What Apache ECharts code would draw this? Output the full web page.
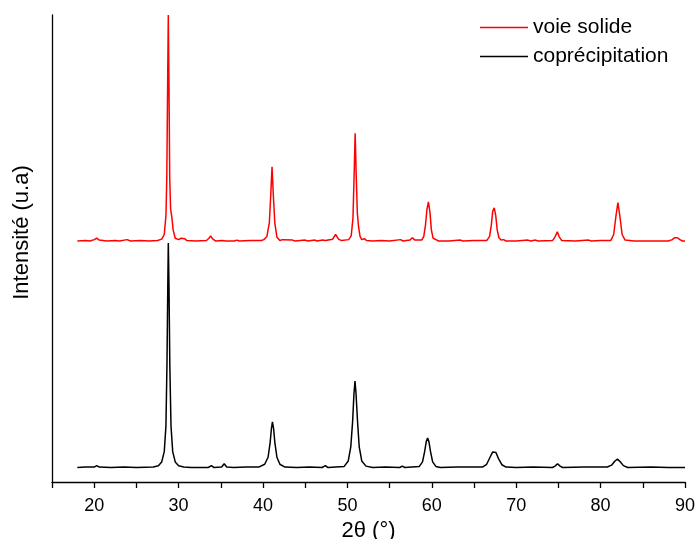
<!DOCTYPE html>
<html>
<head>
<meta charset="utf-8">
<script src="https://cdn.jsdelivr.net/npm/echarts@6/dist/echarts.min.js"></script>
<style>
html,body{margin:0;padding:0;background:#fff;}
#chart{width:696px;height:539px;}
</style>
</head>
<body>
<div id="chart"></div>
<script>
// 2θ (°) tick labels
var xTicks = [20, 30, 40, 50, 60, 70, 80, 90];

// "voie solide" pattern: [2θ, intensity (u.a, offset)]
var voieSolide = [
[18.0,51.6],[19.0,51.7],[19.5,51.6],[20.0,51.9],[20.3,52.2],[20.6,51.8],[21.5,51.6],[22.5,51.7],[23.0,51.6],[23.9,51.9],[24.3,51.6],
[25.5,51.7],[26.5,51.6],[27.5,51.7],[28.0,52.0],[28.3,53.0],[28.5,57.0],[28.6,65.0],[28.7,85.0],[28.78,100],[28.86,85.0],[28.95,65.0],
[29.05,58.5],[29.2,56.7],[29.35,54.0],[29.6,52.2],[30.0,51.9],[30.3,52.2],[30.5,52.6],[30.7,52.1],[31.0,51.7],[32.0,51.6],[33.3,51.7],
[33.6,52.2],[33.8,52.7],[34.0,52.1],[34.4,51.6],[35.2,51.7],[35.4,51.9],[35.6,51.6],[36.6,51.6],[36.9,51.8],[37.2,51.6],[38.5,51.7],
[39.8,51.7],[40.1,51.9],[40.45,52.5],[40.75,55.5],[40.92,61.5],[41.07,67.5],[41.22,61.5],[41.4,55.5],[41.65,52.4],[42.0,51.7],[42.3,51.9],
[42.5,51.6],[43.5,51.8],[43.8,51.6],[45.0,51.8],[45.3,51.6],[46.15,51.8],[46.4,51.6],[47.07,51.8],[47.4,51.7],[48.25,52.0],[48.6,53.0],
[48.95,52.0],[49.3,51.7],[50.15,51.9],[50.45,52.7],[50.66,56.5],[50.8,66.0],[50.92,74.7],[51.04,66.0],[51.18,57.5],[51.33,54.5],[51.5,52.6],
[51.7,51.9],[52.0,52.1],[52.3,51.7],[53.0,51.6],[54.0,51.7],[55.0,51.6],[56.3,51.9],[56.6,51.6],[57.4,51.8],[57.7,52.3],[58.0,51.8],
[58.8,51.8],[59.05,52.6],[59.25,55.0],[59.42,58.3],[59.6,60.0],[59.78,57.8],[59.95,54.0],[60.15,52.2],[60.5,51.9],[60.8,51.6],[62.0,51.6],
[63.4,51.8],[63.7,51.6],[65.0,51.7],[66.5,51.7],[66.85,52.6],[67.05,55.0],[67.22,58.0],[67.4,58.7],[67.58,57.0],[67.75,54.0],[67.95,52.3],
[68.2,51.8],[68.5,51.9],[68.8,51.6],[70.0,51.6],[71.4,51.8],[71.7,51.6],[72.3,51.8],[72.6,51.6],[74.3,51.7],[74.6,52.5],[74.87,53.6],
[75.1,52.5],[75.4,51.7],[77.0,51.6],[78.6,51.8],[78.9,51.6],[80.0,51.7],[81.2,51.7],[81.55,53.0],[81.82,57.0],[82.05,59.8],[82.28,57.0],
[82.55,53.0],[82.9,51.8],[84.0,51.6],[86.0,51.6],[88.0,51.6],[88.5,51.9],[88.75,52.3],[88.9,52.2],[89.1,52.3],[89.4,51.9],[89.7,51.6],[90.0,51.6]
];

// "coprécipitation" pattern: [2θ, intensity (u.a)]
var coprecipitation = [
[18.0,3.1],[19.0,3.2],[20.0,3.2],[20.3,3.5],[20.6,3.2],[22.0,3.1],[23.5,3.2],[25.0,3.1],[27.0,3.2],[27.6,3.5],[28.0,4.3],[28.3,6.5],
[28.5,12.0],[28.62,25.0],[28.72,42.0],[28.78,51.2],[28.86,42.0],[28.96,25.0],[29.1,12.0],[29.3,6.5],[29.6,4.3],[30.0,3.5],[30.6,3.2],
[31.5,3.1],[33.5,3.1],[33.9,3.5],[34.2,3.1],[35.1,3.2],[35.4,3.9],[35.7,3.2],[36.5,3.1],[38.0,3.2],[39.5,3.2],[40.2,3.8],[40.6,5.3],
[40.85,8.5],[41.0,11.5],[41.12,12.9],[41.25,11.5],[41.4,8.5],[41.65,5.3],[42.0,3.8],[42.6,3.2],[44.0,3.1],[45.5,3.2],[47.0,3.1],[47.4,3.5],
[47.7,3.1],[49.6,3.3],[50.1,4.5],[50.4,7.5],[50.62,13.0],[50.78,19.0],[50.9,21.6],[51.02,19.0],[51.2,13.0],[51.4,7.5],[51.7,4.5],
[52.2,3.4],[53.0,3.1],[54.5,3.2],[56.2,3.1],[56.5,3.4],[56.8,3.1],[58.5,3.3],[58.9,4.3],[59.15,6.5],[59.35,8.7],[59.5,9.4],[59.65,8.7],
[59.85,6.5],[60.1,4.3],[60.5,3.3],[61.0,3.1],[63.0,3.2],[66.0,3.2],[66.5,3.8],[66.9,5.3],[67.2,6.4],[67.4,6.6],[67.6,6.3],[67.9,5.0],
[68.3,3.7],[68.8,3.2],[70.0,3.1],[72.0,3.2],[74.3,3.1],[74.6,3.4],[74.9,3.9],[75.2,3.4],[75.5,3.1],[78.0,3.2],[80.8,3.2],[81.3,3.6],
[81.7,4.5],[82.0,4.9],[82.3,4.4],[82.7,3.5],[83.2,3.1],[86.0,3.2],[88.0,3.1],[90.0,3.1]
];

var seriesNames = ['voie solide', 'coprécipitation'];

var FONT = '"Liberation Sans", Arial, sans-serif';
var chart = echarts.init(document.getElementById('chart'), null, {renderer: 'canvas'});
chart.setOption({
  animation: false,
  backgroundColor: '#ffffff',
  grid: {left: 52, right: 11, top: 15, bottom: 57, containLabel: false, outerBoundsMode: 'none'},
  legend: {
    orient: 'vertical',
    left: 475,
    top: 12,
    itemWidth: 48,
    itemHeight: 1.5,
    itemGap: 8,
    icon: 'rect',
    data: seriesNames,
    textStyle: {fontFamily: FONT, fontSize: 21, color: '#000'}
  },
  xAxis: {
    type: 'value',
    min: 15,
    max: 90,
    interval: 5,
    name: '2θ (°)',
    nameLocation: 'middle',
    nameGap: 35,
    nameTextStyle: {fontFamily: FONT, fontSize: 22, color: '#000'},
    axisLine: {show: true, onZero: false, lineStyle: {color: '#000', width: 1.3}},
    axisTick: {show: true, inside: false, length: 6, lineStyle: {color: '#000', width: 1.3}},
    axisLabel: {
      fontFamily: FONT, fontSize: 18, color: '#000', margin: 15,
      formatter: function (v) { return xTicks.indexOf(v) >= 0 ? String(v) : ''; }
    },
    splitLine: {show: false}
  },
  yAxis: {
    type: 'value',
    min: 0,
    max: 100,
    name: 'Intensité (u.a)',
    nameLocation: 'middle',
    nameGap: 19,
    nameTextStyle: {fontFamily: FONT, fontSize: 22, color: '#000', padding: [0, 0, 0, 32]},
    axisLine: {show: true, lineStyle: {color: '#000', width: 1.3}},
    axisTick: {show: false},
    axisLabel: {show: false},
    splitLine: {show: false}
  },
  series: [
    {
      name: seriesNames[1], type: 'line', data: coprecipitation,
      symbol: 'none', smooth: false,
      lineStyle: {color: '#000000', width: 1.5}, itemStyle: {color: '#000000'}
    },
    {
      name: seriesNames[0], type: 'line', data: voieSolide,
      symbol: 'none', smooth: false,
      lineStyle: {color: '#ff0000', width: 1.5}, itemStyle: {color: '#ff0000'}
    }
  ]
});
</script>
</body>
</html>
